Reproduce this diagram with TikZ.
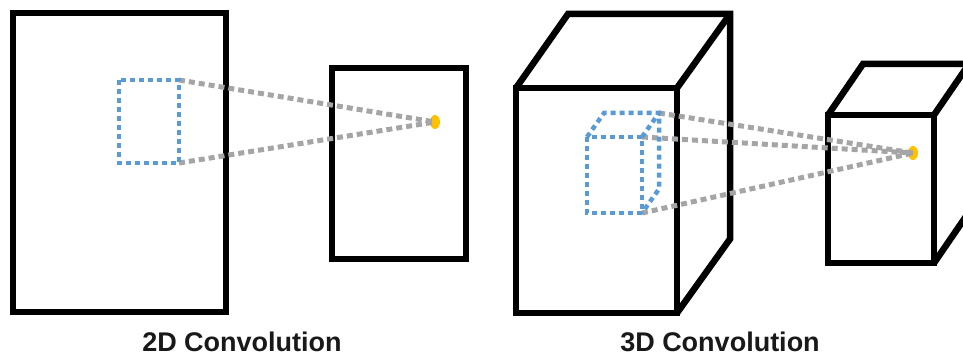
\documentclass[tikz,border=0pt]{standalone}
\usepackage{fontspec}
\setmainfont{Liberation Sans}
\usetikzlibrary{shapes.geometric}
\begin{document}
\begin{tikzpicture}[x=1pt,y=-1pt,
  frame/.style={draw=black,line width=6.5pt,line join=miter},
  kernel/.style={draw=kblue,line width=4.5pt,dash pattern=on 5pt off 4pt},
  ray/.style={draw=rgray,line width=5pt,dash pattern=on 6pt off 4pt},
  dotnode/.style={ellipse,fill=dotc,minimum width=10pt,minimum height=14pt,inner sep=0pt},
  label/.style={font=\bfseries\fontsize{27}{30}\selectfont,text=black!90,anchor=base,inner sep=0pt}]
\definecolor{kblue}{HTML}{5B9BD5}
\definecolor{rgray}{HTML}{A5A5A5}
\definecolor{dotc}{HTML}{FFC000}
\useasboundingbox (0,0) rectangle (963,358);
\clip (0,0) rectangle (963,358);
% ---------- 2D ----------
\draw[frame] (13,13) rectangle (226,312);
\draw[frame] (332,68) rectangle (466,259);
\node[dotnode] (dotA) at (435,122) {};
\coordinate (ka1) at (179,80);
\coordinate (ka2) at (179,163);
\draw[ray] (ka1) -- (dotA.center);
\draw[ray] (ka2) -- (dotA.center);
\draw[kernel] (119,80) rectangle (179,163);
\node[label] (t2) at (242,351) {2D Convolution};
% ---------- 3D big cube ----------
\draw[frame] (516,88) rectangle (677,313);
\draw[frame] (516,88) -- (568,14) -- (730,14) -- (730,239) -- (677,313);
\draw[frame] (677,88) -- (730,14);
% small cube
\draw[frame] (828,115) rectangle (934,263);
\draw[frame] (828,115) -- (863,64) -- (969,64) -- (969,212) -- (934,263);
\draw[frame] (934,115) -- (969,64);
% dot
\node[dotnode] (dotB) at (913,153) {};
% kernel cube
\coordinate (f1) at (587,137); \coordinate (f2) at (642,137);
\coordinate (f3) at (642,213); \coordinate (f4) at (587,213);
\coordinate (b1) at (604,113); \coordinate (b2) at (659,113);
\coordinate (b3) at (659,189);
\draw[ray] (b2) -- (dotB.center);
\draw[ray] (f2) -- (dotB.center);
\draw[ray] (f3) -- (dotB.center);
\draw[kernel] (f1) rectangle (f3);
\draw[kernel] (f1) -- (b1) -- (b2) -- (b3) -- (f3);
\draw[kernel] (f2) -- (b2);
\node[label] (t3) at (720,351) {3D Convolution};
\end{tikzpicture}
\end{document}
